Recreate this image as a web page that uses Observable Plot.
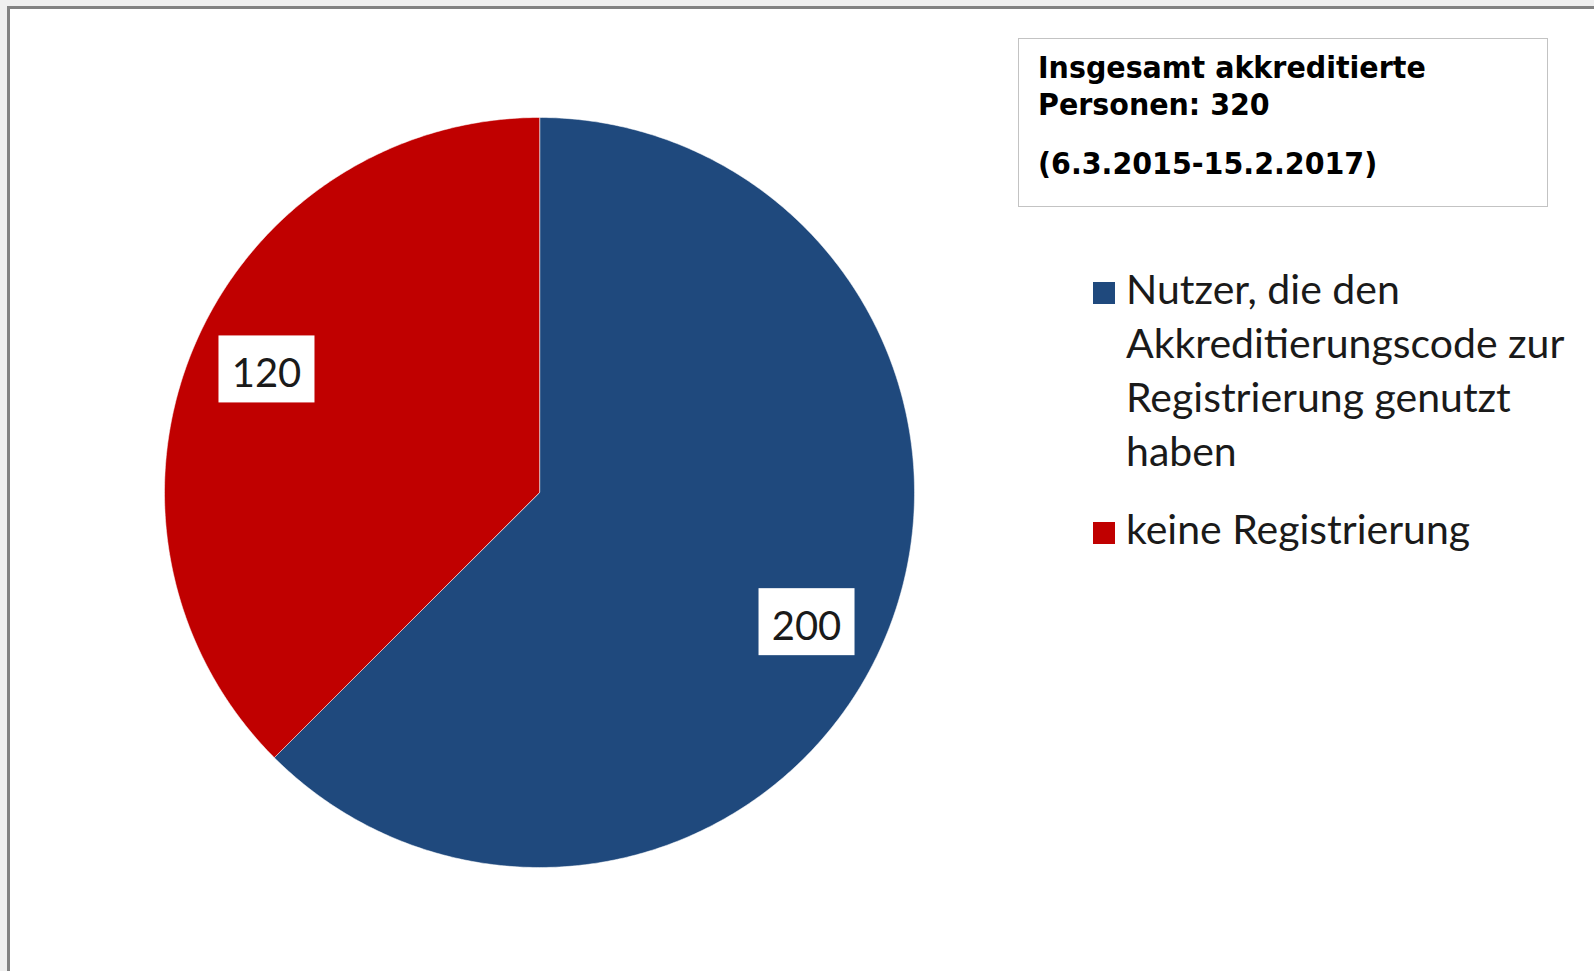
<!DOCTYPE html>
<html>
<head>
<meta charset="utf-8">
<script src="https://cdn.jsdelivr.net/npm/d3@7"></script>
<script src="https://cdn.jsdelivr.net/npm/@observablehq/plot@0.6"></script>
<style>
  html, body { margin: 0; padding: 0; background: #efefef; }
  #page { position: relative; width: 1594px; height: 971px; overflow: hidden; background: #efefef; }
  #sheet { position: absolute; left: 7px; top: 6px; right: 0; bottom: 0; background: #fff;
           border-top: 3px solid #828282; border-left: 3px solid #828282; }
  #chart { position: absolute; left: 0; top: 0; }
  #titlebox { position: absolute; left: 1018px; top: 38px; width: 530px; height: 169px; box-sizing: border-box;
              border: 1px solid #c3c3c3; background: #fff; color: #000;
              font-family: "DejaVu Sans", sans-serif; font-weight: bold; font-size: 31px; line-height: 37px;
              padding: 10px 0 0 19px; }
  #titlebox .inner { width: 540px; transform: scaleX(0.92); transform-origin: 0 0; }
  #titlebox p { margin: 0; }
  #titlebox p + p { margin-top: 22px; }
  .lg-item { position: absolute; left: 1093px; }
  .lg-sw { position: absolute; left: 0; width: 22px; height: 22px; }
  .lg-tx { position: absolute; left: 33px; width: 458px; font-family: Lato, sans-serif; font-size: 41px;
           line-height: 54px; color: #1a1a1a; }
</style>
</head>
<body>
<div id="page">
  <div id="sheet"></div>
  <div id="chart"></div>
  <div id="titlebox"><div class="inner"></div></div>
  <div id="legend"></div>
</div>
<script>
// ---- data ----
const categories = ["Nutzer, die den Akkreditierungscode zur Registrierung genutzt haben", "keine Registrierung"];
const values = [200, 120];
const colors = ["#1F497D", "#C00000"];
const titleText = "Insgesamt akkreditierte Personen:";
const periodText = "(6.3.2015-15.2.2017)";

// ---- derived tables ----
const data = categories.map((name, i) => ({name, value: values[i]}));
const arcs = d3.pie().sort(null).value(d => d.value)(data);

const slicePts = [];
for (const a of arcs) {
  const name = a.data.name;
  slicePts.push({name, x: 0, y: 0});
  const n = Math.max(2, Math.ceil((a.endAngle - a.startAngle) / (Math.PI / 360)));
  for (let i = 0; i <= n; i++) {
    const t = a.startAngle + (a.endAngle - a.startAngle) * i / n;
    slicePts.push({name, x: Math.sin(t), y: Math.cos(t)});
  }
}

const labelRadius = 0.795, labelShift = 0.045;
const labels = arcs.map(a => {
  const t = (a.startAngle + a.endAngle) / 2 + labelShift;
  return {name: a.data.name, value: a.data.value, x: labelRadius * Math.sin(t), y: labelRadius * Math.cos(t)};
});

const plot = Plot.plot({
  width: 1594,
  height: 971,
  margin: 0,
  style: {background: "transparent", overflow: "visible"},
  x: {domain: [-1, 1], range: [164, 914], axis: null},
  y: {domain: [-1, 1], range: [867, 117], axis: null},
  color: {domain: categories, range: colors},
  marks: [
    Plot.line(slicePts, {x: "x", y: "y", z: "name", fill: "name", stroke: "#ffffff",
      strokeWidth: 1, strokeOpacity: 0.5, curve: "linear-closed"}),
    Plot.text(labels, {x: "x", y: "y", text: d => String(d.value), fontFamily: "Lato",
      fontSize: 40, fill: "#1a1a1a", dx: -3, dy: 8})
  ]
});
document.getElementById("chart").appendChild(plot);

// white boxes behind data labels
plot.querySelectorAll('g[aria-label="text"] text').forEach(t => {
  const bb = t.getBBox();
  const r = document.createElementNS("http://www.w3.org/2000/svg", "rect");
  r.setAttribute("x", bb.x + bb.width / 2 - 48);
  r.setAttribute("y", bb.y + bb.height / 2 - 3 - 33.5);
  r.setAttribute("width", 96);
  r.setAttribute("height", 67);
  r.setAttribute("fill", "#ffffff");
  if (t.getAttribute("transform")) r.setAttribute("transform", t.getAttribute("transform"));
  t.parentNode.insertBefore(r, t);
});

// title box
const tb = d3.select("#titlebox .inner");
tb.append("p").text(`${titleText} ${d3.sum(values)}`);
tb.append("p").text(periodText);

// legend
const legendTops = [262, 502];
const lg = d3.select("#legend");
categories.forEach((name, i) => {
  const item = lg.append("div").attr("class", "lg-item").style("top", legendTops[i] + "px");
  item.append("div").attr("class", "lg-sw").style("top", "20px").style("background", colors[i]);
  item.append("div").attr("class", "lg-tx").style("top", "0px").text(name);
});
</script>
</body>
</html>
